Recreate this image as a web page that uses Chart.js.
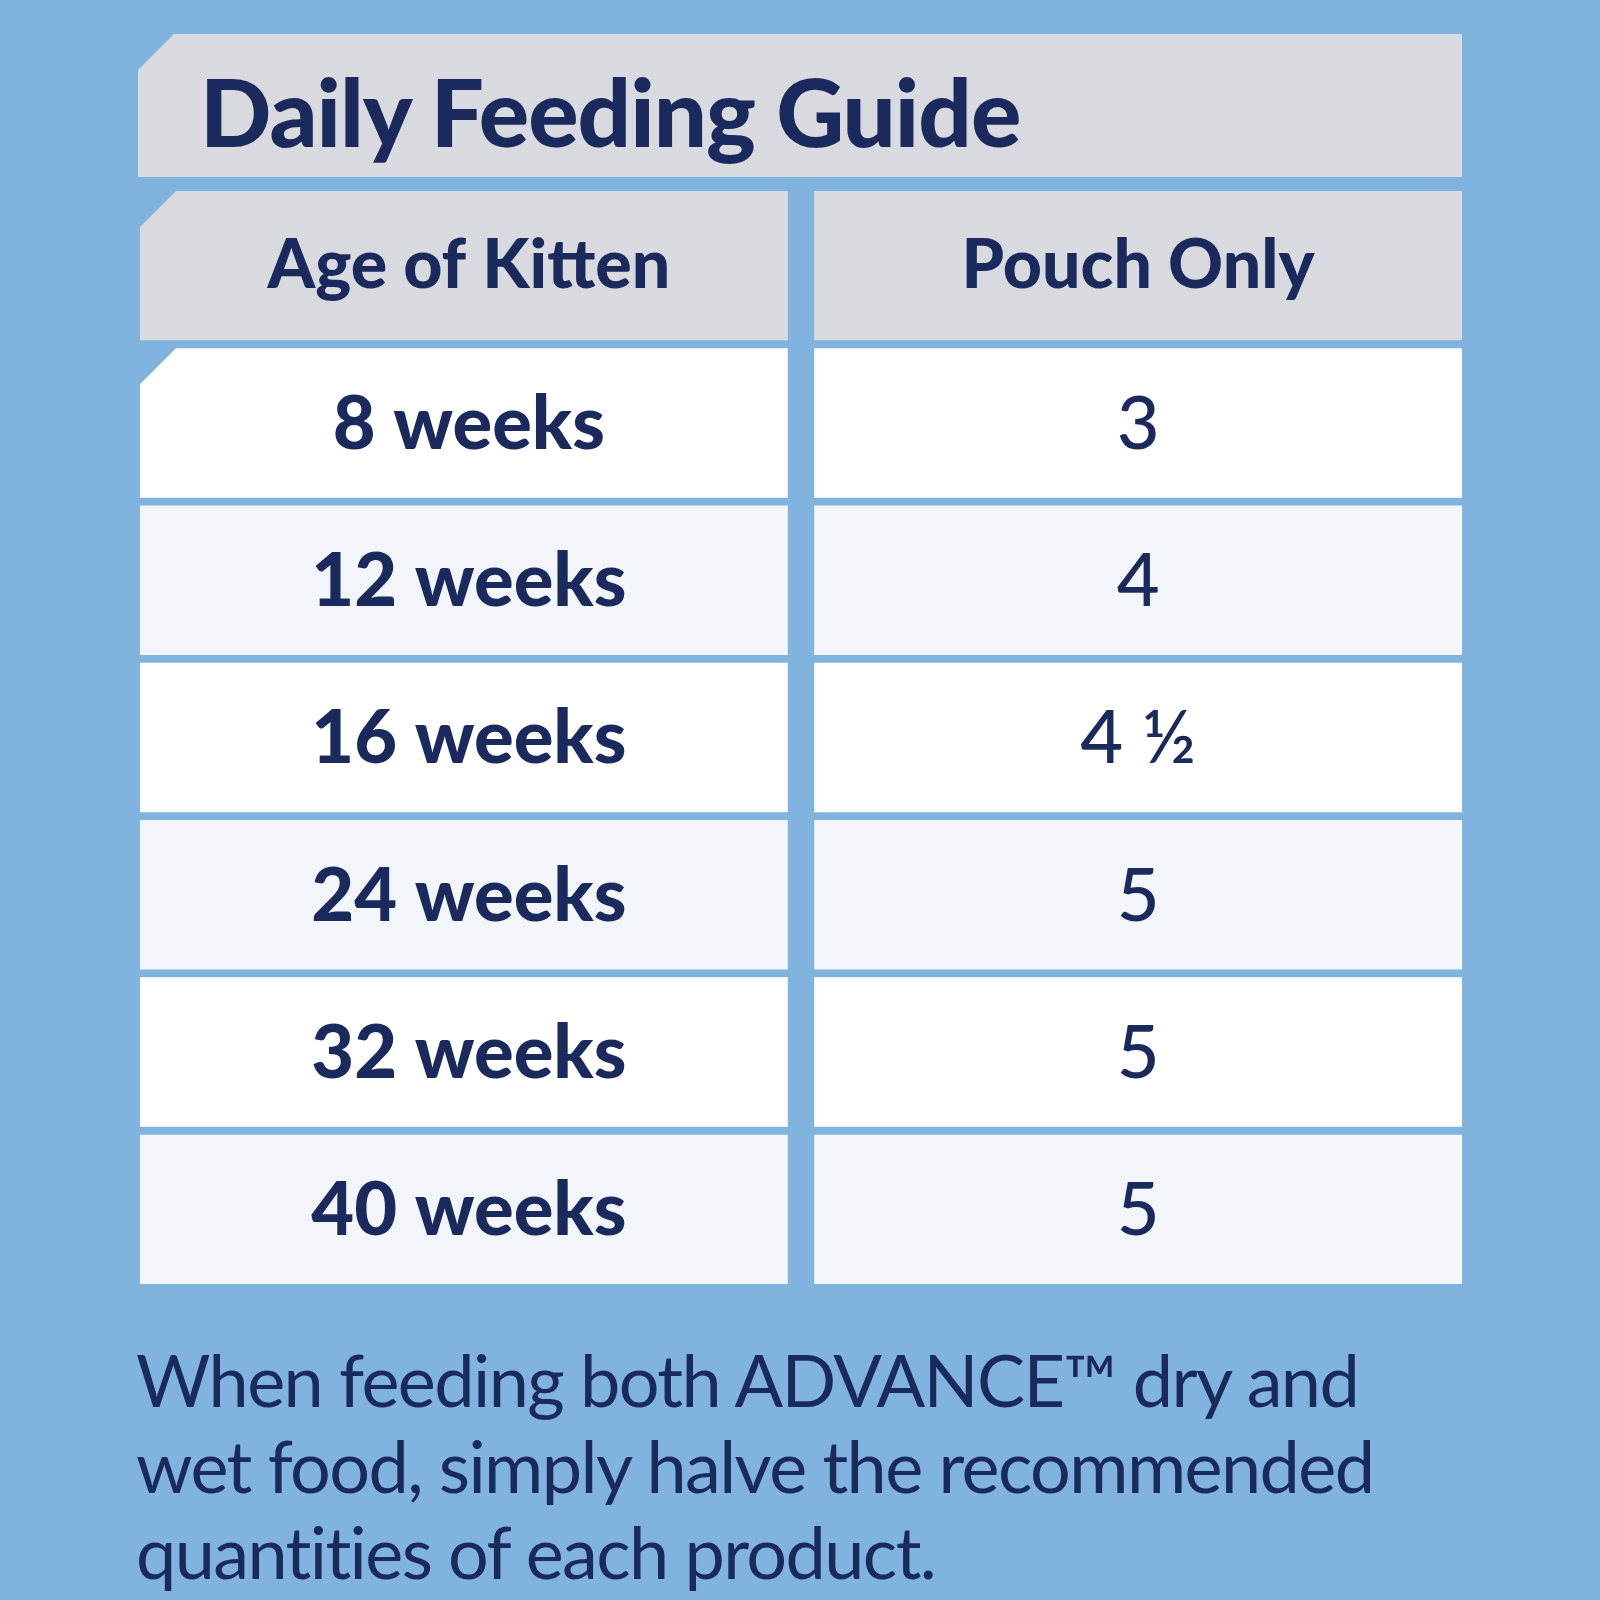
<!DOCTYPE html>
<html><head><meta charset="utf-8">
<script src="https://cdn.jsdelivr.net/npm/chart.js@4"></script>
<style>
html,body{margin:0;padding:0;background:#80b4de;width:1600px;height:1600px;overflow:hidden;font-family:Lato,sans-serif}
#title{position:absolute;left:138px;top:34px;width:1324px;height:143px;background:#d9dadf;clip-path:polygon(36px 0,100% 0,100% 100%,0 100%,0 36px)}
#title span{position:absolute;left:62px;top:20px;font-size:94px;font-weight:900;color:#1b2a5c;letter-spacing:-1px}
#note{position:absolute;left:136px;top:1336px;font-size:72px;color:#1b2a5c;line-height:86px;letter-spacing:-1.6px}
canvas{position:absolute;left:0;top:0}
</style></head><body>
<div id="title"><span>Daily Feeding Guide</span></div>
<canvas id="c" width="1600" height="1600"></canvas>
<div id="note">When feeding both ADVANCE™ dry and<br>wet food, simply halve the recommended<br>quantities of each product.</div>
<script>
const headers = ["Age of Kitten", "Pouch Only"];
const ages = ["8 weeks","12 weeks","16 weeks","24 weeks","32 weeks","40 weeks"];
const pouches = ["3","4","4 ½","5","5","5"];
const rows = ["header"].concat(ages);
const rowColors = ["#d9dadf","#ffffff","#f2f6fa","#ffffff","#f2f6fa","#ffffff","#f2f6fa"];
const navy = "#1b2a5c";
const textPlugin = {
  id:'txt',
  afterDatasetsDraw(chart){
    const ctx = chart.ctx;
    const bg = "#80b4de";
    [0,1].forEach(di=>{
      chart.getDatasetMeta(di).data.forEach((bar,i)=>{
        const x0 = Math.min(bar.x,bar.base), x1 = Math.max(bar.x,bar.base);
        const top = bar.y - bar.height/2;
        if(di===0 && i<2){
          ctx.fillStyle=bg;ctx.beginPath();ctx.moveTo(x0-1,top-1);ctx.lineTo(x0+37,top-1);ctx.lineTo(x0-1,top+37);ctx.closePath();ctx.fill();
        }
        let t, font;
        if(i===0){t=headers[di];font="900 68px Lato";}
        else if(di===0){t=ages[i-1];font="900 74px Lato";}
        else {t=pouches[i-1];font="500 74px Lato";}
        ctx.fillStyle=navy;ctx.font=font;ctx.textAlign="center";ctx.textBaseline="middle";
        ctx.fillText(t,(x0+x1)/2+(di===0?5:0),bar.y+(i===0?0:2));
      });
    });
  }
};
new Chart(document.getElementById('c'),{
  type:'bar',
  data:{labels:rows,datasets:[
    {data:rows.map(()=>[0,0.98]),backgroundColor:rowColors,grouped:false,barPercentage:0.95,categoryPercentage:1},
    {data:rows.map(()=>[1.02,2]),backgroundColor:rowColors,grouped:false,barPercentage:0.95,categoryPercentage:1}
  ]},
  options:{indexAxis:'y',responsive:false,devicePixelRatio:1,animation:false,
    layout:{padding:{left:140,right:138,top:187,bottom:312}},
    plugins:{legend:{display:false},tooltip:{enabled:false}},
    scales:{x:{display:false,min:0,max:2},y:{display:false}}},
  plugins:[textPlugin]
});
</script></body></html>
